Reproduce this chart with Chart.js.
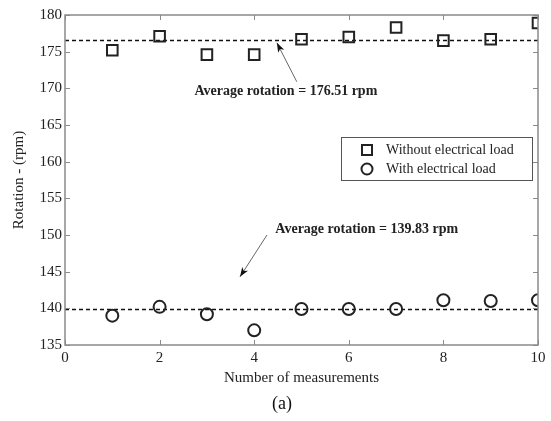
<!DOCTYPE html>
<html>
<head>
<meta charset="utf-8">
<script src="https://cdn.jsdelivr.net/npm/chart.js@4.4.0/dist/chart.umd.min.js"></script>
<style>
  html, body { margin: 0; padding: 0; background: #fff; }
  #wrap { width: 551px; height: 421px; }
</style>
</head>
<body>
<div id="wrap"><canvas id="chart" width="551" height="421"></canvas></div>
<script>
// data
const measurements = [1, 2, 3, 4, 5, 6, 7, 8, 9, 10];
const withoutLoad = [175.2, 177.1, 174.6, 174.6, 176.7, 177.0, 178.3, 176.5, 176.7, 178.9];
const withLoad = [139.0, 140.2, 139.2, 137.0, 139.9, 139.9, 139.9, 141.1, 141.0, 141.1];
const avgWithout = 176.51;
const avgWith = 139.83;
const xTicks = [0, 2, 4, 6, 8, 10];
const yTicks = [135, 140, 145, 150, 155, 160, 165, 170, 175, 180];
const labelWithout = "Without electrical load";
const labelWith = "With electrical load";
const noteWithout = "Average rotation = 176.51 rpm";
const noteWith = "Average rotation = 139.83 rpm";

const serif = "'Liberation Serif', 'Times New Roman', serif";
const axisGray = "#8a8a8a";

// 축 테두리, 안쪽 눈금, 범례, 주석
const extras = {
    id: "extras",
    afterDraw(chart) {
        const ctx = chart.ctx;
        const a = chart.chartArea;
        const xs = chart.scales.x, ys = chart.scales.y;
        ctx.save();
        ctx.strokeStyle = axisGray;
        ctx.lineWidth = 1.5;
        ctx.strokeRect(a.left, a.top, a.right - a.left, a.bottom - a.top);
        ctx.lineWidth = 1;
        xTicks.forEach(v => {
            const px = Math.round(xs.getPixelForValue(v)) + 0.5;
            ctx.beginPath();
            ctx.moveTo(px, a.bottom); ctx.lineTo(px, a.bottom - 5);
            ctx.moveTo(px, a.top); ctx.lineTo(px, a.top + 5);
            ctx.stroke();
        });
        yTicks.forEach(v => {
            const py = Math.round(ys.getPixelForValue(v)) + 0.5;
            ctx.beginPath();
            ctx.moveTo(a.left, py); ctx.lineTo(a.left + 5, py);
            ctx.moveTo(a.right, py); ctx.lineTo(a.right - 5, py);
            ctx.stroke();
        });

        // legend box
        const lx = 341, ly = 137, lw = 191, lh = 43;
        ctx.fillStyle = "#fff";
        ctx.fillRect(lx, ly, lw, lh);
        ctx.strokeStyle = "#555";
        ctx.lineWidth = 1;
        ctx.strokeRect(lx + 0.5, ly + 0.5, lw, lh);
        ctx.strokeStyle = "#222";
        ctx.lineWidth = 2;
        ctx.strokeRect(362, 145, 10, 10);
        ctx.beginPath();
        ctx.arc(367, 169, 5.5, 0, Math.PI * 2);
        ctx.stroke();
        ctx.fillStyle = "#222";
        ctx.font = "14px " + serif;
        ctx.textBaseline = "middle";
        ctx.textAlign = "left";
        ctx.fillText(labelWithout, 386, 150);
        ctx.fillText(labelWith, 386, 169);

        // annotations
        ctx.font = "bold 14px " + serif;
        ctx.textAlign = "center";
        ctx.fillText(noteWithout, xs.getPixelForValue(4.67), ys.getPixelForValue(169.6));
        ctx.fillText(noteWith, xs.getPixelForValue(6.38), ys.getPixelForValue(150.7));
        arrow(ctx, xs.getPixelForValue(4.9), ys.getPixelForValue(170.9),
                   xs.getPixelForValue(4.48), ys.getPixelForValue(176.2));
        arrow(ctx, xs.getPixelForValue(4.27), ys.getPixelForValue(150.0),
                   xs.getPixelForValue(3.7), ys.getPixelForValue(144.3));

        // caption
        ctx.font = "18px " + serif;
        ctx.fillStyle = "#111";
        ctx.fillText("(a)", 282, 404);
        ctx.restore();
    }
};

function arrow(ctx, x1, y1, x2, y2) {
    const ang = Math.atan2(y2 - y1, x2 - x1);
    ctx.strokeStyle = "#666";
    ctx.lineWidth = 1;
    ctx.beginPath();
    ctx.moveTo(x1, y1); ctx.lineTo(x2, y2);
    ctx.stroke();
    ctx.fillStyle = "#111";
    ctx.beginPath();
    ctx.moveTo(x2, y2);
    ctx.lineTo(x2 - 10 * Math.cos(ang - 0.35), y2 - 10 * Math.sin(ang - 0.35));
    ctx.lineTo(x2 - 7 * Math.cos(ang), y2 - 7 * Math.sin(ang));
    ctx.lineTo(x2 - 10 * Math.cos(ang + 0.35), y2 - 10 * Math.sin(ang + 0.35));
    ctx.closePath();
    ctx.fill();
}

const ctx = document.getElementById("chart").getContext("2d");
new Chart(ctx, {
    type: "scatter",
    data: {
        datasets: [
            {
                label: labelWithout,
                data: measurements.map((m, i) => ({ x: m, y: withoutLoad[i] })),
                pointStyle: "rect",
                pointRadius: 7.5,
                borderColor: "#222",
                backgroundColor: "rgba(0,0,0,0)",
                borderWidth: 2
            },
            {
                label: labelWith,
                data: measurements.map((m, i) => ({ x: m, y: withLoad[i] })),
                pointStyle: "circle",
                pointRadius: 6,
                borderColor: "#222",
                backgroundColor: "rgba(0,0,0,0)",
                borderWidth: 2
            },
            {
                type: "line",
                data: [{ x: 0, y: avgWithout }, { x: 10, y: avgWithout }],
                borderColor: "#111",
                borderWidth: 1.5,
                borderDash: [4, 3],
                pointRadius: 0
            },
            {
                type: "line",
                data: [{ x: 0, y: avgWith }, { x: 10, y: avgWith }],
                borderColor: "#111",
                borderWidth: 1.5,
                borderDash: [4, 3],
                pointRadius: 0
            }
        ]
    },
    options: {
        responsive: false,
        animation: false,
        layout: { padding: { top: 15, right: 13, left: 0, bottom: 34 } },
        plugins: { legend: { display: false }, tooltip: { enabled: false } },
        scales: {
            x: {
                type: "linear",
                min: 0, max: 10,
                afterBuildTicks: s => { s.ticks = xTicks.map(v => ({ value: v })); },
                afterFit: s => { s.height = 42; },
                grid: { display: false, drawTicks: false },
                border: { display: false },
                ticks: { color: "#222", font: { family: serif, size: 15 }, padding: 4, maxRotation: 0 },
                title: { display: true, text: "Number of measurements", color: "#222",
                         font: { family: serif, size: 15 }, padding: { top: 0, bottom: 0 } }
            },
            y: {
                min: 135, max: 180,
                afterBuildTicks: s => { s.ticks = yTicks.map(v => ({ value: v })); },
                afterFit: s => { s.width = 65; },
                grid: { display: false, drawTicks: false },
                border: { display: false },
                ticks: { color: "#222", font: { family: serif, size: 15 }, padding: 3 },
                title: { display: true, text: "Rotation - (rpm)", color: "#222",
                         font: { family: serif, size: 15 }, padding: { top: 10, bottom: 0 } }
            }
        }
    },
    plugins: [extras]
});
</script>
</body>
</html>
